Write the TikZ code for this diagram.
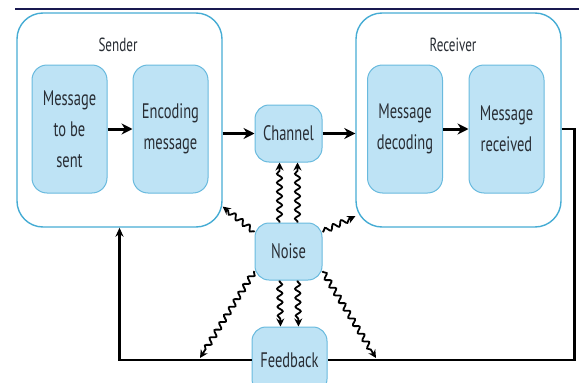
\documentclass[tikz,border=0pt]{standalone}
\usepackage{fontspec}
\setmainfont{PT Sans}[FakeStretch=0.69]
\usetikzlibrary{arrows.meta,decorations.pathmorphing}

\definecolor{boxfill}{RGB}{190,227,245}
\definecolor{boxedge}{RGB}{105,186,222}
\definecolor{outeredge}{RGB}{70,172,212}
\definecolor{txt}{RGB}{40,45,52}
\definecolor{topline}{RGB}{25,25,80}

\begin{document}
\begin{tikzpicture}[x=1pt,y=-1pt,
 outerbox/.style={draw=outeredge,line width=1.4pt,rounded corners=26pt,minimum width=205pt,minimum height=214pt,inner sep=0pt},
 inbox/.style={draw=boxedge,fill=boxfill,line width=1pt,rounded corners=15pt,minimum width=75pt,minimum height=128pt,align=center,text=txt,font=\fontsize{21}{31}\selectfont,inner sep=0pt},
 smallbox/.style={draw=boxedge,fill=boxfill,line width=1pt,rounded corners=14pt,minimum width=67pt,minimum height=57pt,text=txt,font=\fontsize{21}{25}\selectfont,inner sep=0pt},
 title/.style={text=txt,font=\fontsize{19}{22}\selectfont},
 flow/.style={line width=3pt,-{Stealth[length=11pt,width=11pt]}},
 fb/.style={line width=2.8pt,line join=miter},
 wave/.style={line width=1.8pt,-{Stealth[length=8pt,width=8pt]},decorate,decoration={snake,amplitude=2.6pt,segment length=9pt,post length=6pt,pre length=1pt}}
]
\useasboundingbox (0,0) rectangle (579,383);
\draw[topline,line width=2pt] (15,9) coordinate (tl) -- (579,9) coordinate (tr);

\node[outerbox] (sender) at (119.5,120) {};
\node[outerbox] (receiver) at (458.5,120) {};
\node[title] (sendert) at (118,45) {Sender};
\node[title] (receivert) at (453,45) {Receiver};

\node[inbox] (tobesent) at (69.5,129) {Message\\to be\\sent};
\node[inbox] (encoding) at (170.5,129) {Encoding\\message};
\node[inbox] (decoding) at (405,129) {Message\\decoding};
\node[inbox] (received) at (506.5,129) {Message\\received};

\node[smallbox] (channel) at (288.5,133.5) {Channel};
\node[smallbox] (noise) at (288.5,251.5) {Noise};
\node[smallbox,minimum width=75pt,minimum height=66pt] (feedback) at (289.5,360) {Feedback};

\draw[flow] (tobesent) -- (encoding);
\draw[flow] (sender.east |- channel) -- (channel);
\draw[flow] (channel) -- (receiver.west |- channel);
\draw[flow] (decoding) -- (received);

\draw[fb] (receiver.east |- received) -- ++(13,0) |- (feedback.east);
\draw[fb,-{Stealth[length=9pt,width=8pt]}] (feedback.west) -| (sender.south);

\coordinate (fbl) at (200,358);
\coordinate (fbr) at (376,358);

\draw[wave] ([xshift=-9pt]noise.north) -- ([xshift=-9pt]channel.south);
\draw[wave] ([xshift=9pt]noise.north) -- ([xshift=9pt]channel.south);
\draw[wave] ([xshift=-9pt]noise.south) -- ([xshift=-9pt]feedback.north);
\draw[wave] ([xshift=9pt]noise.south) -- ([xshift=9pt]feedback.north);
\draw[wave] (noise.150) -- (sender.-40);
\draw[wave] (noise.30) -- (receiver.-137);
\draw[wave] (noise.210) -- (fbl);
\draw[wave] (noise.-30) -- (fbr);
\end{tikzpicture}
\end{document}
